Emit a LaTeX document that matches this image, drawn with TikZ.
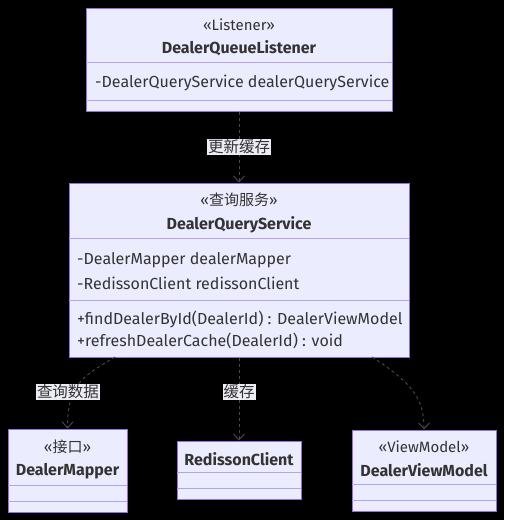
\documentclass[tikz,border=0pt]{standalone}
\usepackage{fontspec}
\setmainfont{Fira Sans}
\newfontfamily\cjk{Noto Sans CJK SC}
\usetikzlibrary{arrows.meta}

\definecolor{umlfill}{HTML}{ECECFF}
\definecolor{umlborder}{HTML}{9370DB}
\definecolor{umlsep}{HTML}{B8A2E6}
\definecolor{umltext}{HTML}{333333}
\definecolor{umlline}{HTML}{4A4A4A}
\definecolor{umllabel}{HTML}{ECECF4}

\begin{document}
\begin{tikzpicture}[
    x=1pt, y=-1pt,
    classbox/.style={rectangle, draw=umlborder, fill=umlfill, line width=1pt, inner sep=0pt},
    sep/.style={draw=umlsep, line width=1pt},
    stereo/.style={text=umltext, font=\fontsize{15}{17}\selectfont, inner sep=0pt},
    cname/.style={text=umltext, font=\fontsize{16}{18}\selectfont\bfseries, inner sep=0pt},
    member/.style={text=umltext, font=\fontsize{16}{18}\selectfont, anchor=west, inner sep=0pt},
    dep/.style={draw=umlline, dashed, line width=0.9pt, -{Straight Barb[length=6pt, width=11pt]}},
    elabel/.style={fill=umllabel, text=umltext, font=\cjk\fontsize{15.5}{17}\selectfont, inner sep=1pt}
]
\useasboundingbox[fill=black] (0,0) rectangle (504,520);

% Classes
\node[classbox, minimum width=306pt, minimum height=103pt] (listener) at (239,59.5) {};
\draw[sep] (86,62) -- (392,62);
\draw[sep] (86,100) -- (392,100);
\node[stereo] (listenerst) at (239,25) {«Listener»};
\node[cname] (listenername) at (239,48) {DealerQueueListener};
\node[member] (listenerattr) at (95,83) {-DealerQueryService dealerQueryService};

\node[classbox, minimum width=340pt, minimum height=174pt] (service) at (239,270) {};
\draw[sep] (69,238) -- (409,238);
\draw[sep] (69,300) -- (409,300);
\node[stereo] (servicest) at (239,200) {«{\cjk 查询服务}»};
\node[cname] (servicename) at (239,225) {DealerQueryService};
\node[member] (serviceattra) at (77,260) {-DealerMapper dealerMapper};
\node[member] (serviceattrb) at (77,283) {-RedissonClient redissonClient};
\node[member] (servicemetha) at (77,319) {+findDealerById(DealerId) : DealerViewModel};
\node[member] (servicemethb) at (77,341) {+refreshDealerCache(DealerId) : void};

\node[classbox, minimum width=119pt, minimum height=83pt] (mapper) at (67.5,470.5) {};
\draw[sep] (8,485) -- (127,485);
\draw[sep] (8,501) -- (127,501);
\node[stereo] (mapperst) at (67.5,447) {«{\cjk 接口}»};
\node[cname] (mappername) at (67.5,471) {DealerMapper};

\node[classbox, minimum width=124pt, minimum height=58pt] (redisson) at (239,470) {};
\draw[sep] (177,472) -- (301,472);
\draw[sep] (177,488) -- (301,488);
\node[cname] (redissonname) at (239,459) {RedissonClient};

\node[classbox, minimum width=144pt, minimum height=81pt] (viewmodel) at (424,470.5) {};
\draw[sep] (352,484) -- (496,484);
\draw[sep] (352,500) -- (496,500);
\node[stereo] (viewmodelst) at (424,447) {«ViewModel»};
\node[cname] (viewmodelname) at (424,470) {DealerViewModel};

% Relations
\coordinate (mapperfrom) at (115,357);
\coordinate (viewmodelfrom) at (372,357);
\draw[dep] (listener.south) -- (service.north);
\draw[dep] (mapperfrom) .. controls (80,378) and (68,385) .. (mapper.north);
\draw[dep] (service.south) -- (redisson.north);
\draw[dep] (viewmodelfrom) .. controls (412,383) and (424,398) .. (viewmodel.north);

% Labels
\node[elabel] (updatelabel) at (239,147) {更新缓存};
\node[elabel] (querylabel) at (68,392) {查询数据};
\node[elabel] (cachelabel) at (239,392) {缓存};

\end{tikzpicture}
\end{document}
